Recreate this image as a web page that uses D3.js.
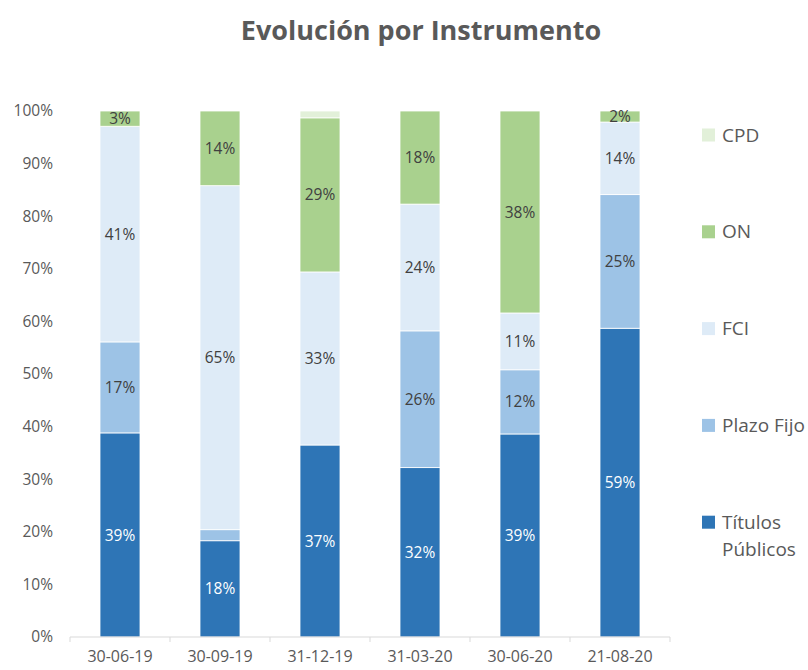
<head>
    <meta charset="utf-8">
    <script src="https://cdn.jsdelivr.net/npm/d3@7"></script>
    <style>
        body { margin: 0; background: #fff; }
        text { font-family: "Open Sans", "Noto Sans", sans-serif; }
    </style>
</head>
<body>
</body>
<script>
    // datos (% del total por fecha)
    const fechas = ["30-06-19", "30-09-19", "31-12-19", "31-03-20", "30-06-20", "21-08-20"];
    const series = ["Títulos Públicos", "Plazo Fijo", "FCI", "ON", "CPD"];
    const titulosPublicos = [38.8, 18.3, 36.5, 32.2, 38.6, 58.7];
    const plazoFijo = [17.3, 2.1, 0, 26.0, 12.2, 25.4];
    const fci = [41.0, 65.4, 32.9, 24.1, 10.8, 13.8];
    const on = [2.9, 14.2, 29.3, 17.7, 38.4, 2.1];
    const cpd = [0, 0, 1.3, 0, 0, 0];
    const yTicks = [0, 10, 20, 30, 40, 50, 60, 70, 80, 90, 100];
    // etiquetas que el original no muestra
    const ocultas = [["30-09-19", "Plazo Fijo"], ["31-12-19", "CPD"]];

    const colores = ["#2e75b6", "#9dc3e6", "#deebf7", "#a9d18e", "#e2f0d9"];
    const valores = [titulosPublicos, plazoFijo, fci, on, cpd];

    const rows = fechas.map((f, i) => {
        const r = {fecha: f};
        series.forEach((s, j) => r[s] = valores[j][i]);
        return r;
    });

    const width = 808, height = 670;
    const margin = {left: 70, right: 138, top: 111, bottom: 33};

    const svg = d3.select("body").append("svg")
        .attr("width", width)
        .attr("height", height);

    svg.append("text")
        .attr("x", 421)
        .attr("y", 40)
        .attr("text-anchor", "middle")
        .attr("font-size", 27)
        .attr("font-weight", "bold")
        .attr("fill", "#595959")
        .text("Evolución por Instrumento");

    const x = d3.scaleBand()
        .domain(fechas)
        .range([margin.left, width - margin.right])
        .paddingInner(0.6)
        .paddingOuter(0.3);
    const y = d3.scaleLinear()
        .domain([0, 100])
        .range([height - margin.bottom, margin.top]);

    const stack = d3.stack().keys(series)(rows);

    const color = d3.scaleOrdinal().domain(series).range(colores);

    const g = svg.append("g");
    const grupos = g.selectAll("g.serie")
        .data(stack)
        .join("g")
        .attr("class", "serie")
        .attr("fill", d => color(d.key));

    grupos.selectAll("rect")
        .data(d => d.map(p => ({key: d.key, p: p})))
        .join("rect")
        .attr("x", d => x(d.p.data.fecha))
        .attr("width", x.bandwidth())
        .attr("y", d => y(d.p[1]))
        .attr("height", d => Math.max(0, y(d.p[0]) - y(d.p[1])))
        .attr("stroke", "#fff")
        .attr("stroke-width", d => d.p[1] - d.p[0] > 0 ? 0.8 : 0);

    // etiquetas de datos
    const esOculta = d => ocultas.some(o => o[0] == d.p.data.fecha && o[1] == d.key);
    grupos.selectAll("text")
        .data(d => d.map(p => ({key: d.key, p: p})).filter(d => d.p[1] - d.p[0] > 0 && !esOculta(d)))
        .join("text")
        .attr("x", d => x(d.p.data.fecha) + x.bandwidth() / 2)
        .attr("y", d => y((d.p[0] + d.p[1]) / 2))
        .attr("dy", "0.36em")
        .attr("text-anchor", "middle")
        .attr("font-size", 15.5)
        .attr("fill", d => d.key == "Títulos Públicos" ? "#fff" : "#404040")
        .text(d => Math.round(d.p[1] - d.p[0]) + "%");

    // eje x
    const xAxis = svg.append("g")
        .attr("transform", `translate(0,${height - margin.bottom})`);
    xAxis.append("line")
        .attr("x1", margin.left).attr("x2", width - margin.right)
        .attr("stroke", "#d9d9d9");
    xAxis.selectAll("line.tick")
        .data(d3.range(fechas.length + 1))
        .join("line")
        .attr("class", "tick")
        .attr("x1", i => margin.left + i * x.step())
        .attr("x2", i => margin.left + i * x.step())
        .attr("y1", 0).attr("y2", 5)
        .attr("stroke", "#d9d9d9");
    xAxis.selectAll("text")
        .data(fechas)
        .join("text")
        .attr("x", d => x(d) + x.bandwidth() / 2)
        .attr("y", 25)
        .attr("text-anchor", "middle")
        .attr("font-size", 16)
        .attr("fill", "#595959")
        .text(d => d);

    // eje y (solo etiquetas)
    const yAxis = svg.append("g")
        .attr("transform", `translate(${margin.left},0)`)
        .call(d3.axisLeft(y).tickValues(yTicks).tickFormat(d => d + "%").tickSize(0).tickPadding(17));
    yAxis.select(".domain").remove();
    yAxis.selectAll("text")
        .attr("font-size", 15.5)
        .attr("font-family", null)
        .attr("fill", "#595959");

    // leyenda
    const leyenda = svg.append("g");
    const orden = series.slice().reverse();
    const item = leyenda.selectAll("g")
        .data(orden)
        .join("g")
        .attr("transform", (d, i) => `translate(702,${135 + i * 96.8})`);
    item.append("rect")
        .attr("y", -6.5)
        .attr("width", 13).attr("height", 13)
        .attr("fill", d => color(d));
    item.append("text")
        .attr("x", 20)
        .attr("font-size", 19)
        .attr("fill", "#595959")
        .selectAll("tspan")
        .data(d => d.split(" ").length > 1 && d.length > 12 ? d.split(" ") : [d])
        .join("tspan")
        .attr("x", 20)
        .attr("dy", (d, i) => i == 0 ? "0.35em" : "1.42em")
        .text(d => d);
</script>
